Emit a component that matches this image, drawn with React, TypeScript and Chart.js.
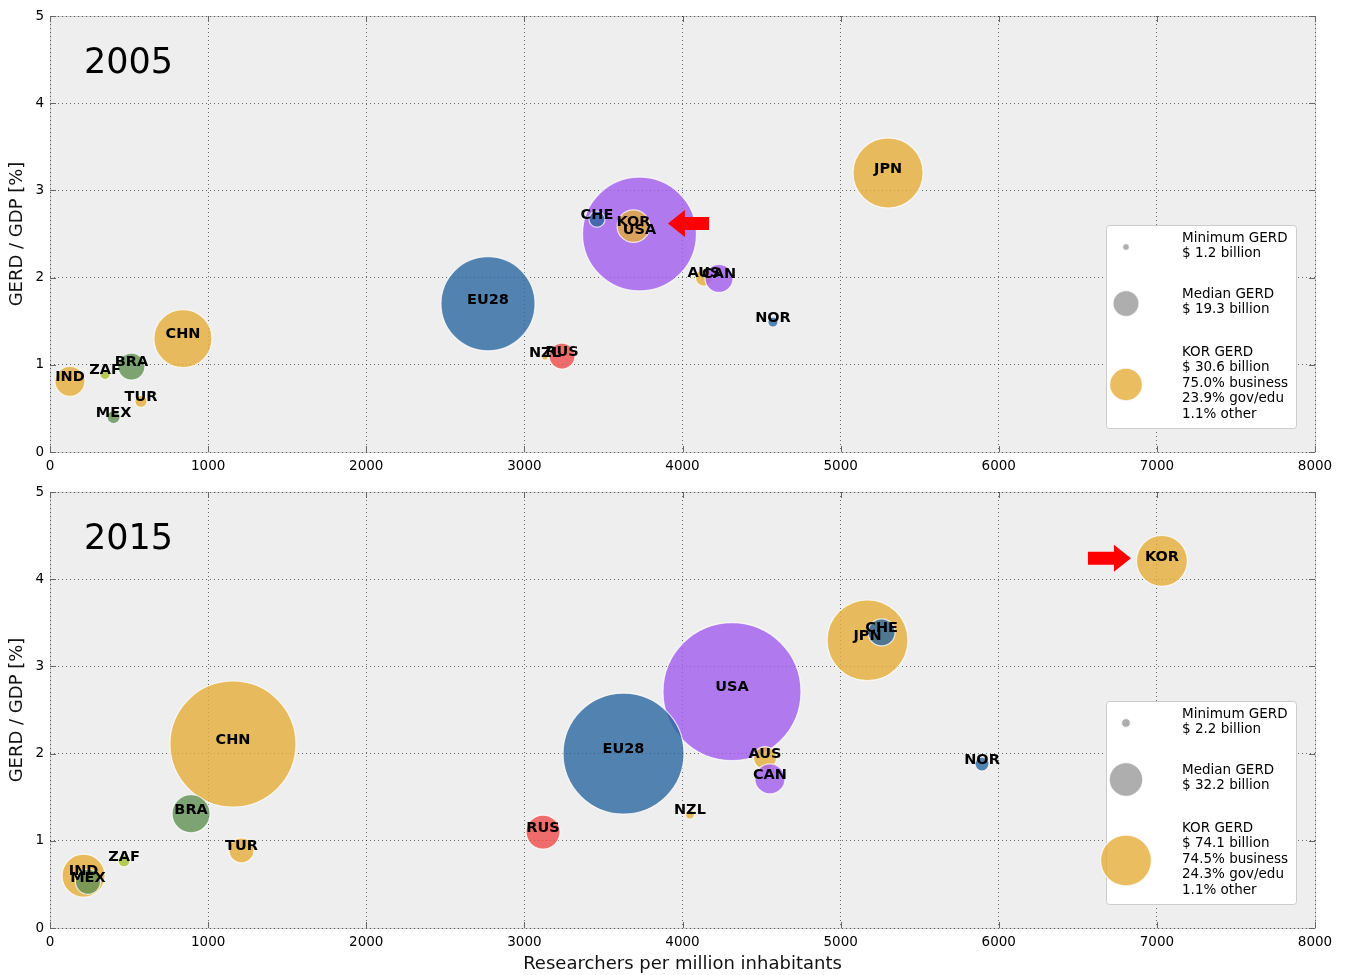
import React, { useEffect, useRef } from 'react';
import { Chart, registerables } from 'chart.js';

Chart.register(...registerables);

const FONT = '"DejaVu Sans", "Liberation Sans", sans-serif';
Chart.defaults.font.family = FONT;
Chart.defaults.color = '#000';

// ---------- data ----------
const countries = ['USA', 'EU28', 'CHN', 'JPN', 'IND', 'KOR', 'AUS', 'CAN', 'BRA', 'RUS', 'NZL', 'MEX', 'TUR', 'ZAF', 'CHE', 'NOR'];

const GOLD = 'rgba(229,174,56,0.8)';
const BLUE = 'rgba(43,103,160,0.8)';
const PURPLE = 'rgba(160,93,238,0.8)';
const GREEN = 'rgba(98,144,84,0.8)';
const RED = 'rgba(238,75,75,0.8)';
const LIME = 'rgba(165,192,42,0.8)';
const countryColors = [PURPLE, BLUE, GOLD, GOLD, GOLD, GOLD, GOLD, PURPLE, GREEN, RED, GOLD, GREEN, GOLD, LIME, BLUE, BLUE];

// 2005
const researchers2005 = [3728, 2770, 841, 5300, 126, 3690, 4136, 4231, 515, 3238, 3130, 402, 575, 348, 3459, 4572];
const gerdGdp2005 = [2.50, 1.70, 1.30, 3.20, 0.81, 2.59, 2.00, 1.99, 0.98, 1.10, 1.09, 0.40, 0.58, 0.89, 2.67, 1.49];
const gerdBillion2005 = [373, 254, 97, 141, 26, 30.6, 8.5, 22.5, 21, 19.3, 1.2, 4.9, 4.1, 3.0, 7.4, 2.9];

// 2015
const researchers2015 = [4313, 3627, 1157, 5170, 212, 7032, 4522, 4553, 892, 3118, 4047, 240, 1211, 468, 5259, 5894];
const gerdGdp2015 = [2.71, 2.00, 2.11, 3.30, 0.60, 4.21, 1.95, 1.71, 1.31, 1.10, 1.30, 0.53, 0.89, 0.77, 3.39, 1.88];
const gerdBillion2015 = [547, 420, 456, 188, 53, 74.1, 15, 26, 41.5, 33, 2.2, 18, 18, 4.1, 21, 5.6];

// legend
const legendSizes2005 = [1.2, 19.3, 30.6];
const legendText2005 = [
  ['Minimum GERD', '$ 1.2 billion'],
  ['Median GERD', '$ 19.3 billion'],
  ['KOR GERD', '$ 30.6 billion', '75.0% business', '23.9% gov/edu', '1.1% other'],
];
const legendSizes2015 = [2.2, 32.2, 74.1];
const legendText2015 = [
  ['Minimum GERD', '$ 2.2 billion'],
  ['Median GERD', '$ 32.2 billion'],
  ['KOR GERD', '$ 74.1 billion', '74.5% business', '24.3% gov/edu', '1.1% other'],
];

// arrows: [tailX, tipX, y]
const arrow2005 = [4168, 3908, 2.62];
const arrow2015 = [6564, 6836, 4.24];

const xTicks = [0, 1000, 2000, 3000, 4000, 5000, 6000, 7000, 8000];
const yTicks = [0, 1, 2, 3, 4, 5];

const R_PER_SQRT = 2.95;
const rad = (g: number) => R_PER_SQRT * Math.sqrt(g);

function makePlugin(year: string, legendSizes: number[], legendText: string[][], arrow: number[]) {
  return {
    id: 'panel' + year,
    beforeDraw(chart: any) {
      const { ctx, chartArea } = chart;
      const { left, top, right, bottom } = chartArea;
      ctx.save();
      ctx.fillStyle = '#eeeeee';
      ctx.fillRect(left, top, right - left, bottom - top);
      ctx.strokeStyle = '#c8c8c8';
      ctx.lineWidth = 1;
      ctx.strokeRect(Math.round(left) + 0.5, Math.round(top) + 0.5, Math.round(right - left), Math.round(bottom - top));
      ctx.restore();
    },
    beforeDatasetsDraw(chart: any) {
      const { ctx, chartArea } = chart;
      const { left, top, right, bottom } = chartArea;
      const xs = chart.scales.x;
      const ys = chart.scales.y;
      ctx.save();
      ctx.strokeStyle = '#666';
      ctx.lineWidth = 1;
      ctx.beginPath();
      xs.ticks.forEach((t: any) => {
        const px = Math.round(xs.getPixelForValue(t.value)) + 0.5;
        ctx.moveTo(px, bottom); ctx.lineTo(px, bottom - 6);
        ctx.moveTo(px, top); ctx.lineTo(px, top + 6);
      });
      ys.ticks.forEach((t: any) => {
        const py = Math.round(ys.getPixelForValue(t.value)) + 0.5;
        ctx.moveTo(left, py); ctx.lineTo(left + 6, py);
        ctx.moveTo(right, py); ctx.lineTo(right - 6, py);
      });
      ctx.stroke();
      ctx.restore();
    },
    afterDatasetsDraw(chart: any) {
      const { ctx, chartArea } = chart;
      const { left, top, right, bottom } = chartArea;
      const xs = chart.scales.x;
      const ys = chart.scales.y;
      ctx.save();
      // country labels
      const meta = chart.getDatasetMeta(0);
      ctx.fillStyle = '#000';
      ctx.font = `bold 14.5px ${FONT}`;
      ctx.textAlign = 'center';
      ctx.textBaseline = 'middle';
      meta.data.forEach((el: any, i: number) => {
        ctx.fillText(countries[i], el.x, el.y - 4);
      });

      // arrow
      const tailX = xs.getPixelForValue(arrow[0]);
      const tipX = xs.getPixelForValue(arrow[1]);
      const ay = ys.getPixelForValue(arrow[2]);
      const dir = Math.sign(tipX - tailX);
      const headLen = 17;
      const neckX = tipX - dir * headLen;
      ctx.fillStyle = '#ff0000';
      ctx.beginPath();
      ctx.moveTo(tailX, ay - 6.5);
      ctx.lineTo(neckX, ay - 6.5);
      ctx.lineTo(neckX, ay - 13.5);
      ctx.lineTo(tipX, ay);
      ctx.lineTo(neckX, ay + 13.5);
      ctx.lineTo(neckX, ay + 6.5);
      ctx.lineTo(tailX, ay + 6.5);
      ctx.closePath();
      ctx.fill();

      // year text
      ctx.fillStyle = '#000';
      ctx.font = `35px ${FONT}`;
      ctx.textAlign = 'left';
      ctx.textBaseline = 'alphabetic';
      ctx.fillText(year, left + 34, top + 57);

      // legend box
      const bx = right - 208.5;
      const by = bottom - 226.5;
      const bw = 190;
      const bh = 203;
      const rr = 3;
      ctx.beginPath();
      ctx.moveTo(bx + rr, by);
      ctx.lineTo(bx + bw - rr, by);
      ctx.quadraticCurveTo(bx + bw, by, bx + bw, by + rr);
      ctx.lineTo(bx + bw, by + bh - rr);
      ctx.quadraticCurveTo(bx + bw, by + bh, bx + bw - rr, by + bh);
      ctx.lineTo(bx + rr, by + bh);
      ctx.quadraticCurveTo(bx, by + bh, bx, by + bh - rr);
      ctx.lineTo(bx, by + rr);
      ctx.quadraticCurveTo(bx, by, bx + rr, by);
      ctx.closePath();
      ctx.fillStyle = '#ffffff';
      ctx.fill();
      ctx.strokeStyle = '#cccccc';
      ctx.lineWidth = 1;
      ctx.stroke();

      const circleOffsets = [21.5, 78, 159];
      const circleColors = ['rgba(139,139,139,0.7)', 'rgba(139,139,139,0.7)', GOLD];
      const textStarts = [16, 72, 130];
      legendSizes.forEach((g, i) => {
        ctx.beginPath();
        ctx.arc(bx + 19.5, by + circleOffsets[i], rad(g), 0, Math.PI * 2);
        ctx.fillStyle = circleColors[i];
        ctx.fill();
        ctx.strokeStyle = 'rgba(255,255,255,0.75)';
        ctx.lineWidth = 1.2;
        ctx.stroke();
      });
      ctx.fillStyle = '#000';
      ctx.font = `13.5px ${FONT}`;
      ctx.textAlign = 'left';
      ctx.textBaseline = 'alphabetic';
      legendText.forEach((lines, i) => {
        lines.forEach((line, j) => {
          ctx.fillText(line, bx + 75.5, by + textStarts[i] + j * 15.5);
        });
      });
      ctx.restore();
    },
  };
}

type PanelProps = {
  height: number;
  xs: number[];
  ys: number[];
  gerd: number[];
  year: string;
  legendSizes: number[];
  legendText: string[][];
  arrow: number[];
  showXTitle: boolean;
};

function Panel(p: PanelProps) {
  const ref = useRef<HTMLCanvasElement>(null);
  useEffect(() => {
    const data = countries.map((c, i) => ({ x: p.xs[i], y: p.ys[i], r: rad(p.gerd[i]) }));
    const gridCommon = {
      color: 'rgba(0,0,0,0.55)',
      lineWidth: 1,
      drawTicks: false,
    };
    const chart = new Chart(ref.current as HTMLCanvasElement, {
      type: 'bubble',
      data: {
        datasets: [
          {
            data,
            backgroundColor: countryColors,
            borderColor: 'rgba(255,255,255,0.75)',
            borderWidth: 1.2,
            hoverRadius: 0,
            clip: false as any,
          } as any,
        ],
      },
      options: {
        animation: false,
        responsive: false,
        events: [],
        layout: { autoPadding: false, padding: { top: 16, right: 33, left: 0, bottom: 0 } },
        plugins: { legend: { display: false }, tooltip: { enabled: false } },
        scales: {
          x: {
            type: 'linear',
            min: 0,
            max: 8000,
            afterBuildTicks: (s: any) => { s.ticks = xTicks.map((v) => ({ value: v })); },
            ticks: {
              padding: 6, color: '#000', font: { size: 13.5 }, maxRotation: 0, autoSkip: false,
              callback: (v: any) => String(v),
            },
            grid: gridCommon,
            border: { display: false, dash: [1, 3] },
            title: {
              display: p.showXTitle,
              text: 'Researchers per million inhabitants',
              color: '#111',
              font: { size: 18 },
              padding: { top: 4, bottom: 0 },
            },
            afterFit: (s: any) => { s.height = p.height - 452; },
          } as any,
          y: {
            type: 'linear',
            min: 0,
            max: 5,
            afterBuildTicks: (s: any) => { s.ticks = yTicks.map((v) => ({ value: v })); },
            ticks: { padding: 6, color: '#000', font: { size: 13.5 }, callback: (v: any) => String(v) },
            grid: gridCommon,
            border: { display: false, dash: [1, 3] },
            title: {
              display: true,
              text: 'GERD / GDP [%]',
              color: '#111',
              font: { size: 18 },
              padding: { top: 7, bottom: 0 },
            },
            afterFit: (s: any) => { s.width = 50; },
          } as any,
        },
      },
      plugins: [makePlugin(p.year, p.legendSizes, p.legendText, p.arrow)],
    });
    return () => chart.destroy();
  }, []);
  return <canvas ref={ref} width={1348} height={p.height} style={{ display: 'block', width: 1348, height: p.height }} />;
}

export default function App() {
  return (
    <div style={{ position: 'absolute', left: 0, top: 0, width: 1348, height: 975, background: '#fff' }}>
      <Panel
        height={476}
        xs={researchers2005}
        ys={gerdGdp2005}
        gerd={gerdBillion2005}
        year="2005"
        legendSizes={legendSizes2005}
        legendText={legendText2005}
        arrow={arrow2005}
        showXTitle={false}
      />
      <Panel
        height={499}
        xs={researchers2015}
        ys={gerdGdp2015}
        gerd={gerdBillion2015}
        year="2015"
        legendSizes={legendSizes2015}
        legendText={legendText2015}
        arrow={arrow2015}
        showXTitle={true}
      />
    </div>
  );
}
